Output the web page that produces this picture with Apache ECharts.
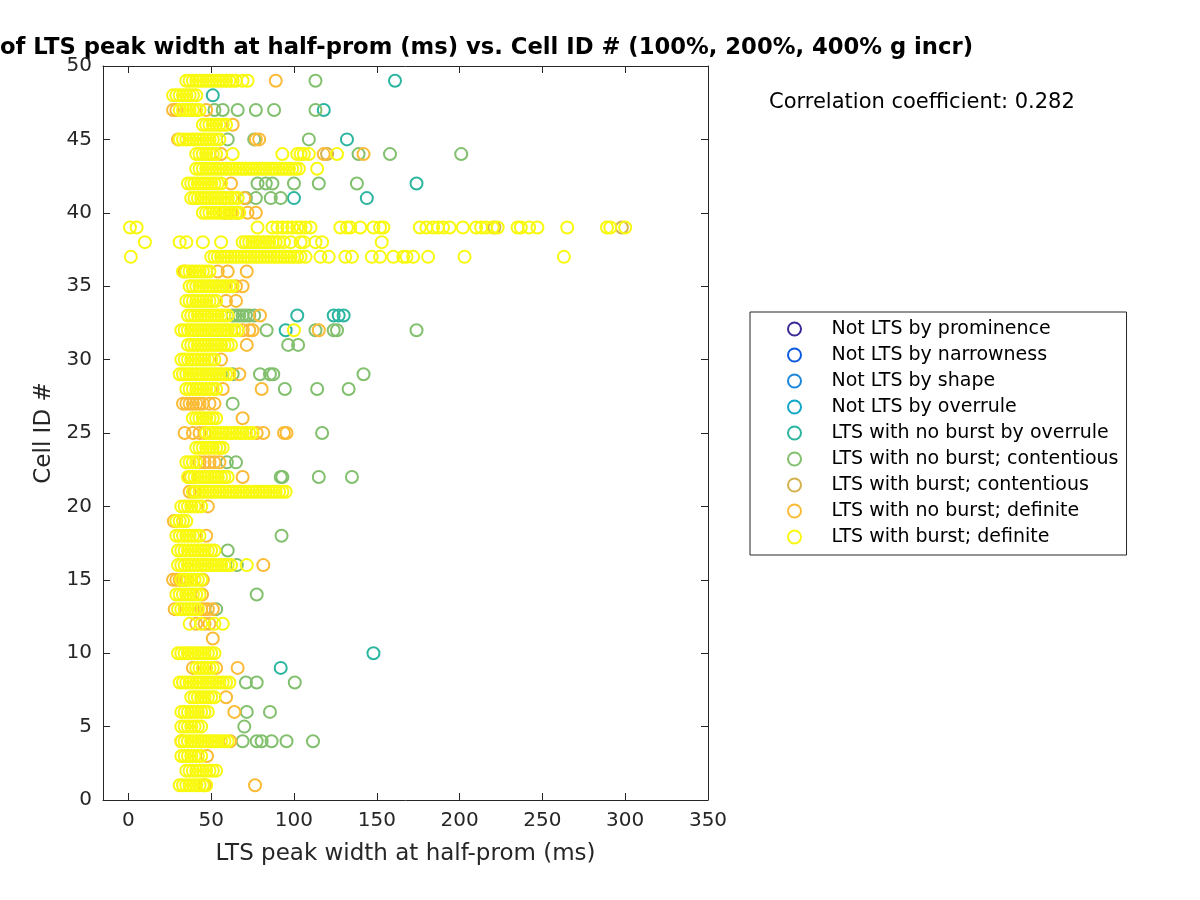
<!DOCTYPE html>
<html>
<head>
<meta charset="utf-8">
<script src="https://cdn.jsdelivr.net/npm/echarts@6/dist/echarts.min.js"></script>
<style>html,body{margin:0;padding:0;background:#fff}#chart{width:1200px;height:900px}</style>
</head>
<body>
<div id="chart"></div>
<script>
// Series names (legend order) and colours
const seriesNames = [
  'Not LTS by prominence',
  'Not LTS by narrowness',
  'Not LTS by shape',
  'Not LTS by overrule',
  'LTS with no burst by overrule',
  'LTS with no burst; contentious',
  'LTS with burst; contentious',
  'LTS with no burst; definite',
  'LTS with burst; definite'
];
const seriesColors = ['#3e2a96','#0f5be0','#1c87d9','#0fa8c8','#2cb5a0','#82c06e','#d4b24c','#fbbb36','#f8f90e'];

// Data: [cell ID, [LTS peak widths (ms)]]
const notLtsProminence = [];
const notLtsNarrowness = [];
const notLtsShape = [];
const notLtsOverrule = [];
const noBurstOverrule = [
  [49,[161]],[48,[51]],[47,[118]],[45,[132]],[42,[174]],[41,[100,144]],
  [33,[102,124,127,130]],[32,[95]],[10,[148]],[9,[92]]
];
const noBurstContentious = [
  [49,[113]],[47,[52,57,66,77,88,113]],[45,[60,76,109]],[44,[139,158,201]],
  [42,[78,83,87,100,115,138]],[41,[71,77,86,92]],[33,[63,65,67,69,71,73,76]],
  [32,[83.5,113,124,126,174]],[31,[96.5,102.5]],[29,[63,79.5,85.5,87.5,142]],
  [28,[94.5,114,133]],[27,[63]],[25,[117]],[23,[59.5,65]],[22,[92,93,115,135]],
  [18,[92.5]],[17,[60]],[16,[65.5]],[14,[77.5]],[13,[53]],[8,[71,77.5,100.5]],
  [6,[71.5,85.5]],[5,[70]],[4,[69,77.5,80.5,86.5,95.5,111.5]]
];
const burstContentious = [
  [44,[120]],[39,[221,298]]
];
const noBurstDefinite = [
  [49,[89]],[47,[27,29,47]],[46,[63]],[45,[30,77,79]],[44,[56,118,142]],[42,[62]],[41,[70]],
  [40,[58,62,66,72,77]],[36,[34,54,60,71.5]],[35,[65,69]],[34,[59,65]],[33,[79.5]],
  [32,[69,73,75,115]],[31,[71.5]],[30,[56]],[29,[67]],[28,[57,80.5]],
  [27,[33,35,37,39,41,43,45,49,52]],[26,[69]],[25,[34,39,43,46,77.5,81.5,94,95.5]],
  [24,[55]],[23,[43,46,49,52,55]],[22,[37,69]],[21,[37,40]],[20,[48]],[19,[27.5]],
  [18,[47]],[16,[81.5]],[15,[27,29,31,33,35,45]],[14,[44.5]],[13,[28,44,46,48,51]],
  [12,[41,46,49]],[11,[51]],[9,[39,53,66]],[7,[59]],[6,[64]],[4,[32,61.5]],[3,[47.5]],
  [1,[46,76.5]]
];
const burstDefinite = [
  [49,[35,37,39,41,43,45,47,49,51,53,55,57,59,61,63,65,69,72]],
  [48,[27,29,31,33,35,37,39,41]],
  [47,[31,33,35,37,39,41,43]],
  [46,[45,47,49,51,53,55,57,59]],
  [45,[31,33,35,37,39,41,43,45,47,49,51,53,55]],
  [44,[41,43,45,47,49,51,53,63,93,102,104,106,109,126]],
  [43,[41,43,45,47,49,51,53,55,57,59,61,63,65,67,69,71,73,75,77,79,81,83,85,87,89,91,93,95,97,99,101,103,114]],
  [42,[36,38,40,42,44,46,48,50,52,54,56]],
  [41,[38,40,42,44,46,48,50,52,54,56,58,60,62,64,66]],
  [40,[45,47,49,51,53,55,57,59,61,63,65,67]],
  [39,[1,5,78,87,90,93,96,99,102,104,107,110,128,132,134,140,148,152,154,176,180,184,187,190,194,202,210,213,216,220,223,235,237,242,247,265,289,291,300]],
  [38,[10,31,35,45,56,69,71,73,75,77,79,81,83,85,87,89,91,94,98,104,106,113,117,153]],
  [37,[1.5,50,52,54,56,58,60,62,64,66,68,70,72,74,76,78,80,82,84,86,88,90,92,94,96,98,100,102,104,107,116,121,131,135,147,152,160,166,168,172,181,203,263]],
  [36,[33,35,37,39,41,43,45,47,49]],
  [35,[37,39,41,43,45,47,49,51,53,55,57,59,61,63]],
  [34,[35,37,39,41,43,45,47,49,51,53]],
  [33,[36,38,40,42,44,46,48,50,52,54,56,58,60]],
  [32,[32,34,36,38,40,42,44,46,48,50,52,54,56,58,60,62,64,66,100]],
  [31,[36,38,40,42,44,46,48,50,52,54,56,58,60,62]],
  [30,[32,34,36,38,40,42,44,46,48,50,52]],
  [29,[31,33,35,37,39,41,43,45,47,49,51,53,55,57,59,61]],
  [28,[35,37,39,41,43,45,47,49,51,53]],
  [26,[39,41,43,45,47,49,51,53]],
  [25,[47,49,51,53,55,57,59,61,63,65,67,69,71,73,75]],
  [24,[41,43,45,47,49,51,53,55,57]],
  [23,[35,37,39,41]],
  [22,[36,38,40,42,44,46,48,50,52,54,56,58,60]],
  [21,[39,41,43,45,47,49,51,53,55,57,59,61,63,65,67,69,71,73,75,77,79,81,83,85,87,89,91,93,95]],
  [20,[32,34,36,38,40,42,44]],
  [19,[29,31,33,35]],
  [18,[29,31,33,35,37,39,41,43]],
  [17,[30,32,34,36,38,40,42,44,46,48,50,52]],
  [16,[30,32,34,36,38,40,42,44,46,48,50,52,54,56,58,60,62,71.5]],
  [15,[32,34,36,38,40,42,44]],
  [14,[29,31,33,35,37,39,41,43]],
  [13,[30,32,34,36,38,40,42]],
  [12,[37,44,52,57]],
  [10,[30,32,34,36,38,40,42,44,46,48,50,52]],
  [9,[41,43,45,47,49,51]],
  [8,[31,33,35,37,39,41,43,45,47,49,51,53,55,57,59,61]],
  [7,[38,40,42,44,46,48,50,52]],
  [6,[32,34,36,38,40,42,44,46,48]],
  [5,[32,34,36,38,40,42,44]],
  [4,[32,34,36,38,40,42,44,46,48,50,52,54,56,58,60]],
  [3,[32,34,36,38,40,42,44]],
  [2,[35,37,39,41,43,45,47,49,51,53]],
  [1,[31,33,35,37,39,41,43,45,47]]
];
const xTicks = [0,50,100,150,200,250,300,350];
const titleText = 'Scatter plot of LTS peak width at half-prom (ms) vs. Cell ID # (100%, 200%, 400% g incr)';
const corrText = 'Correlation coefficient: 0.282';

const allSeriesData = [notLtsProminence, notLtsNarrowness, notLtsShape, notLtsOverrule,
  noBurstOverrule, noBurstContentious, burstContentious, noBurstDefinite, burstDefinite];

function toPoints(rows) {
  const pts = [];
  rows.forEach(([cell, xs]) => xs.forEach(x => pts.push([x, cell])));
  return pts;
}

const font = 'DejaVu Sans';
const axisColor = '#262626';

const chart = echarts.init(document.getElementById('chart'), null, {renderer: 'canvas'});
const series = seriesNames.map((name, i) => ({
  name: name,
  type: 'scatter',
  data: toPoints(allSeriesData[i]),
  symbol: 'circle',
  symbolSize: 12,
  itemStyle: {color: 'rgba(0,0,0,0)', borderColor: seriesColors[i], borderWidth: 2, opacity: 1},
  emphasis: {disabled: true},
  z: 2 + i,
  animation: false
}));

chart.setOption({
  animation: false,
  color: seriesColors,
  textStyle: {fontFamily: font},
  grid: {left: 103, right: 492, top: 66, bottom: 100},
  xAxis: [{
    type: 'value', min: -15.3, max: 350, position: 'bottom',
    axisLine: {show: true, onZero: false, lineStyle: {color: axisColor, width: 1}},
    axisTick: {show: true, inside: true, length: 7, customValues: xTicks, lineStyle: {color: axisColor}},
    axisLabel: {show: true, customValues: xTicks, margin: 11, fontSize: 20, color: axisColor, fontFamily: font},
    splitLine: {show: false},
    name: 'LTS peak width at half-prom (ms)', nameLocation: 'middle', nameGap: 43,
    nameTextStyle: {fontSize: 23, color: axisColor, fontFamily: font}
  }, {
    type: 'value', min: -15.3, max: 350, position: 'top',
    axisLine: {show: true, onZero: false, lineStyle: {color: axisColor, width: 1}},
    axisTick: {show: true, inside: true, length: 7, customValues: xTicks, lineStyle: {color: axisColor}},
    axisLabel: {show: false},
    splitLine: {show: false}
  }],
  yAxis: [{
    type: 'value', min: 0, max: 50, interval: 5, position: 'left',
    axisLine: {show: true, onZero: false, lineStyle: {color: axisColor, width: 1}},
    axisTick: {show: true, inside: true, length: 7, lineStyle: {color: axisColor}},
    axisLabel: {show: true, margin: 11, fontSize: 20, color: axisColor, fontFamily: font},
    splitLine: {show: false},
    name: 'Cell ID #', nameLocation: 'middle', nameGap: 42,
    nameTextStyle: {fontSize: 23, color: axisColor, fontFamily: font}
  }, {
    type: 'value', min: 0, max: 50, interval: 5, position: 'right',
    axisLine: {show: true, onZero: false, lineStyle: {color: axisColor, width: 1}},
    axisTick: {show: true, inside: true, length: 7, lineStyle: {color: axisColor}},
    axisLabel: {show: false},
    splitLine: {show: false}
  }],
  legend: {
    orient: 'vertical', left: 750, top: 312,
    padding: [7, 8, 8, 37],
    itemWidth: 64, itemHeight: 13, itemGap: 6,
    borderColor: axisColor, borderWidth: 1, backgroundColor: '#fff',
    textStyle: {fontSize: 19, lineHeight: 20, color: '#000', fontFamily: font},
    data: seriesNames.map((n, i) => ({
      name: n, icon: 'circle',
      itemStyle: {color: 'rgba(0,0,0,0)', borderColor: seriesColors[i], borderWidth: 2}
    }))
  },
  graphic: [{
    type: 'text', right: 1200 - 973, top: 37, silent: true,
    style: {text: titleText, fontSize: 22.7, fontWeight: 'bold', fontFamily: font, fill: '#000'}
  }, {
    type: 'text', left: 769, top: 92, silent: true,
    style: {text: corrText, fontSize: 21, fontFamily: font, fill: '#000'}
  }],
  series: series
});
</script>
</body>
</html>
